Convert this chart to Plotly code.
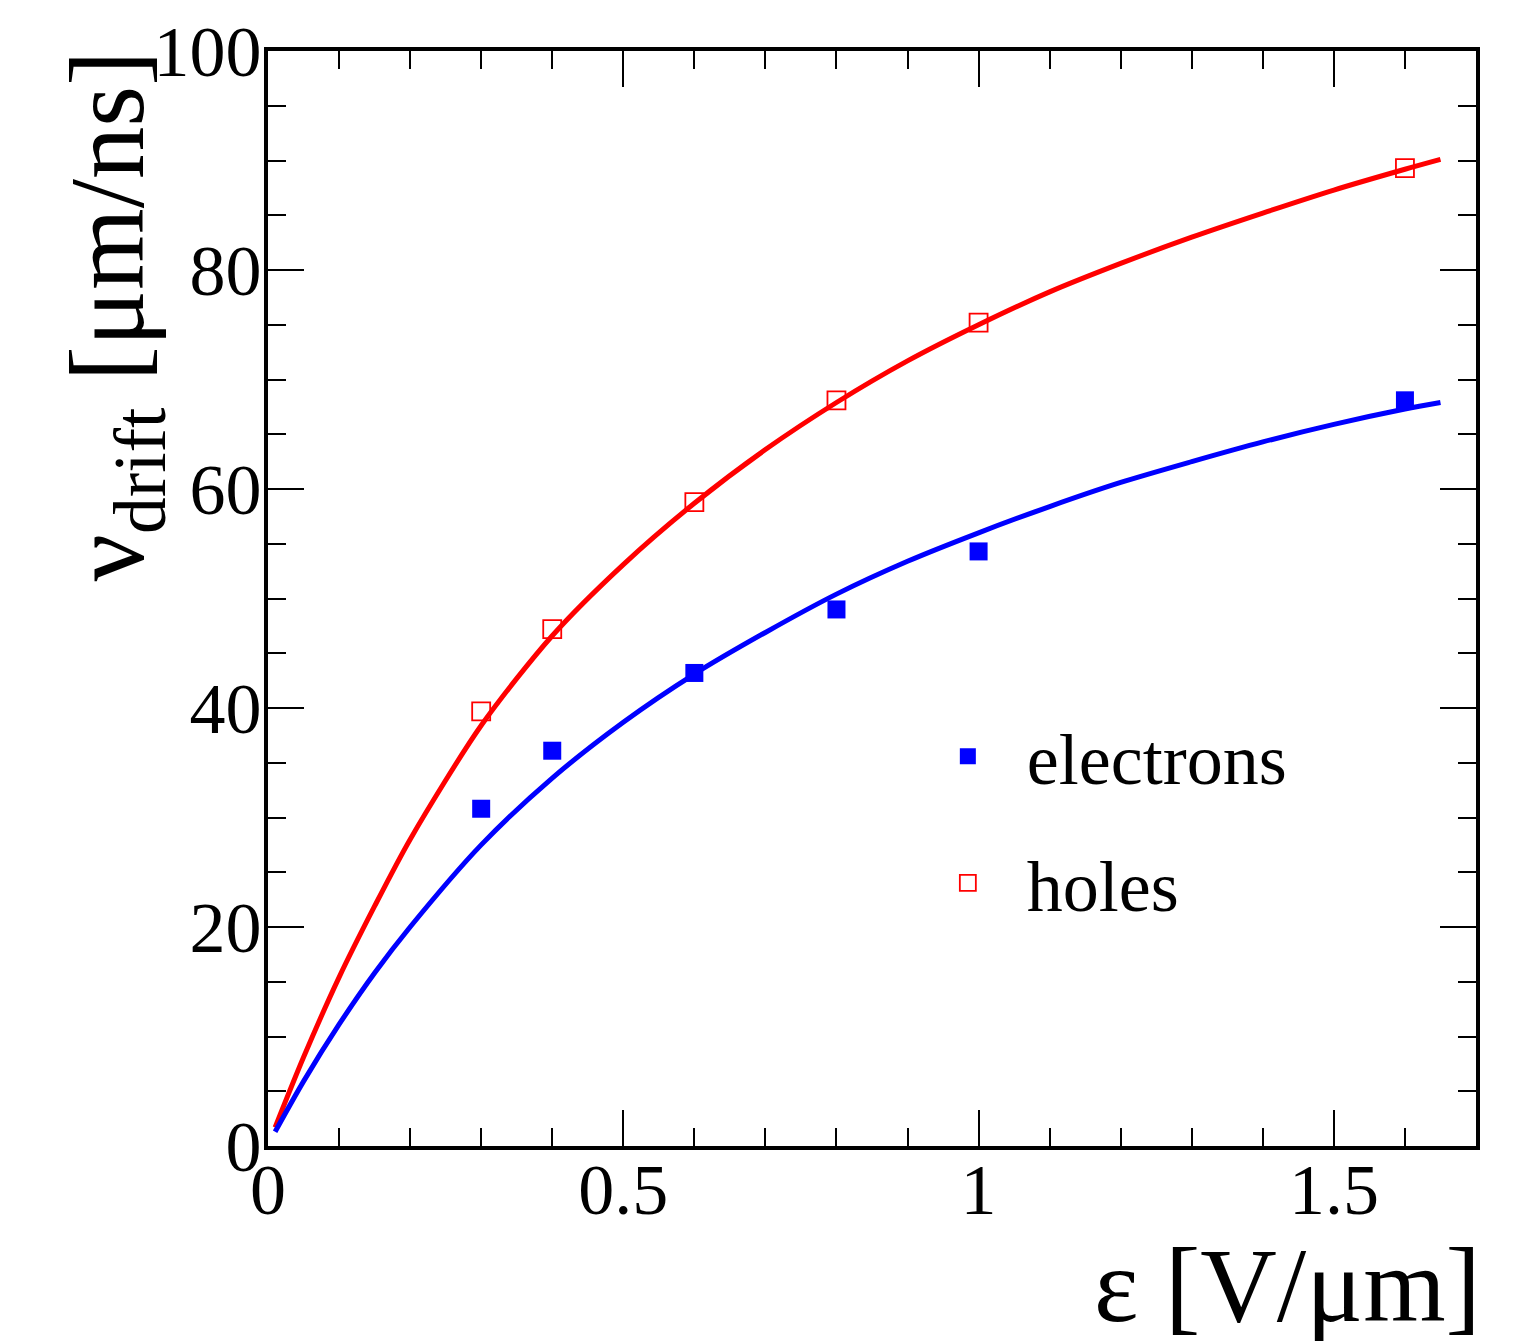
import plotly.graph_objects as go

# Measured drift velocities
field_points = [0.3, 0.4, 0.6, 0.8, 1.0, 1.6]
electrons_v = [30.8, 36.1, 43.2, 49.0, 54.3, 68.1]
holes_v = [39.7, 47.2, 58.8, 68.1, 75.2, 89.3]

# Fitted curves
fit_field = [0.01, 0.05, 0.1, 0.15, 0.2, 0.3, 0.4, 0.5, 0.6, 0.7, 0.8, 0.9,
             1.0, 1.1, 1.2, 1.3, 1.4, 1.5, 1.6, 1.65]
fit_electrons = [1.3, 5.9, 11.1, 15.8, 20.0, 27.5, 33.6, 38.7, 43.1, 46.9, 50.4,
                 53.4, 56.0, 58.4, 60.6, 62.5, 64.3, 65.9, 67.3, 67.9]
fit_holes = [1.7, 8.1, 15.4, 21.9, 28.0, 38.4, 46.6, 53.1, 58.7, 63.6, 67.9,
             71.7, 75.0, 78.0, 80.6, 83.0, 85.2, 87.3, 89.2, 90.1]

x_ticks = [0, 0.5, 1, 1.5]
x_tick_labels = ["0", "0.5", "1", "1.5"]
y_ticks = [0, 20, 40, 60, 80, 100]
y_tick_labels = ["0", "20", "40", "60", "80", "100"]

FONT = "Liberation Serif"
BLUE = "#0000ff"
RED = "#ff0000"

fig = go.Figure()
fig.add_trace(go.Scatter(x=fit_field, y=fit_holes, mode="lines",
                         line=dict(color=RED, width=5, shape="spline", smoothing=0.8),
                         showlegend=False))
fig.add_trace(go.Scatter(x=fit_field, y=fit_electrons, mode="lines",
                         line=dict(color=BLUE, width=5, shape="spline", smoothing=0.8),
                         showlegend=False))
fig.add_trace(go.Scatter(x=field_points, y=electrons_v, mode="markers", name="electrons",
                         marker=dict(symbol="square", size=18, color=BLUE,
                                     line=dict(width=0)),
                         legendgroup="e"))
fig.add_trace(go.Scatter(x=field_points, y=holes_v, mode="markers", name="holes",
                         marker=dict(symbol="square-open", size=18, color=RED,
                                     line=dict(width=1.8, color=RED)),
                         legendgroup="h"))

axis_common = dict(
    showgrid=False, zeroline=False, showline=True, linecolor="black", linewidth=4,
    mirror="ticks", ticks="inside", ticklen=36, tickwidth=2, tickcolor="black",
    tickfont=dict(family=FONT, size=72, color="black"),
)

fig.update_layout(
    width=1527, height=1341,
    margin=dict(l=268, r=51, t=47, b=195),
    paper_bgcolor="white", plot_bgcolor="white",
    font=dict(family=FONT, color="black"),
    xaxis=dict(range=[0, 1.7], tickvals=x_ticks, ticktext=x_tick_labels,
               ticklabelstandoff=-22,
               minor=dict(dtick=0.1, ticklen=18, tickwidth=2, tickcolor="black", ticks="inside"),
               **axis_common),
    yaxis=dict(range=[0, 100], tickvals=y_ticks, ticktext=y_tick_labels,
               ticklabelstandoff=-12,
               minor=dict(dtick=5, ticklen=18, tickwidth=2, tickcolor="black", ticks="inside"),
               **axis_common),
    legend=dict(x=0.5305, y=0.4046, xanchor="left", yanchor="top",
                bgcolor="rgba(0,0,0,0)", font=dict(family=FONT, size=72, color="black"),
                itemwidth=108, tracegroupgap=30),
    showlegend=True,
)

fig.add_annotation(text="ε [V/μm]", xref="paper", yref="paper", x=1.006, y=-0.127,
                   xanchor="right", yanchor="middle", showarrow=False,
                   font=dict(family=FONT, size=106, color="black"))
fig.add_annotation(text="ν<sub>drift</sub> [μm/ns]", xref="paper", yref="paper",
                   x=-0.127, y=0.758, xanchor="center", yanchor="middle",
                   textangle=-90, showarrow=False,
                   font=dict(family=FONT, size=105, color="black"))

fig.write_html("out.html")
